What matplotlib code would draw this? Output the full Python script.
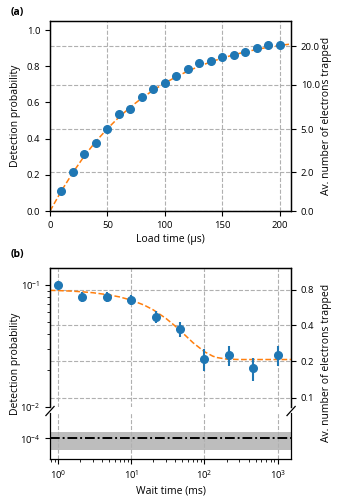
import numpy as np
import matplotlib
matplotlib.use('Agg')
import matplotlib.pyplot as plt
from matplotlib.ticker import NullLocator, NullFormatter, FixedLocator, LogLocator

plt.rcParams['font.family'] = ['Open Sans', 'DejaVu Sans']
plt.rcParams['font.size'] = 7.5
plt.rcParams['xtick.labelsize'] = 6.8
plt.rcParams['ytick.labelsize'] = 6.8
plt.rcParams['axes.linewidth'] = 0.9

# (a) loading curve
load_t = [10, 20, 30, 40, 50, 60, 70, 80, 90, 100,
          110, 120, 130, 140, 150, 160, 170, 180, 190, 200]
load_p = [0.109, 0.215, 0.317, 0.376, 0.453, 0.534, 0.562, 0.630, 0.676, 0.707,
          0.744, 0.786, 0.818, 0.831, 0.851, 0.862, 0.877, 0.901, 0.919, 0.919]
load_fit_t = [0, 10, 20, 30, 40, 50, 60, 70, 80, 90, 100, 110,
              120, 130, 140, 150, 160, 170, 180, 190, 200, 210]
load_fit_p = [0.0, 0.112, 0.213, 0.305, 0.385, 0.455, 0.518, 0.574, 0.624, 0.668, 0.707, 0.742,
              0.773, 0.800, 0.824, 0.845, 0.863, 0.879, 0.893, 0.905, 0.915, 0.923]
n_ticks_a = [0.0, 2.0, 5.0, 10.0, 20.0]

# (b) storage curve
wait_t = [1.0, 2.15, 4.64, 10.0, 21.5, 46.4, 100.0, 215.0, 464.0, 1000.0]
wait_p = [0.1005, 0.0802, 0.0802, 0.0754, 0.0550, 0.0434, 0.0249, 0.0268, 0.0207, 0.0268]
wait_err = [0.008, 0.008, 0.008, 0.007, 0.0065, 0.0062, 0.005, 0.005, 0.0044, 0.005]
wait_fit_t = [0.78, 1, 1.5, 2, 3, 5, 7, 10, 15, 20, 30, 40, 50, 70,
              100, 130, 150, 200, 300, 500, 1000, 1520]
wait_fit_p = [0.0905, 0.0901, 0.0892, 0.0883, 0.0865, 0.0830, 0.0798, 0.0752, 0.0685, 0.0626,
              0.0531, 0.0460, 0.0407, 0.0336, 0.0284, 0.0261, 0.0254, 0.0247, 0.0245, 0.0245,
              0.0245, 0.0245]
n_ticks_b = [0.1, 0.2, 0.4, 0.8]
noise_level = 1e-4
noise_lo, noise_hi = 0.80e-4, 1.12e-4

eta = 0.12
def n2p(n):
    return 1 - np.exp(-eta*np.asarray(n))

grid_kw = dict(color='#b0b0b0', ls='--', lw=0.8)
blue = '#1f77b4'
orange = '#ff7f0e'

fig = plt.figure(figsize=(3.41, 5.04), dpi=100)

# ---- panel (a)
ax = fig.add_axes([0.1466, 0.5813, 0.707, 0.377])
ax.plot(load_fit_t, load_fit_p, color=orange, ls='--', lw=1.1, zorder=2)
ax.plot(load_t, load_p, 'o', color=blue, ms=5.5, zorder=3)
ax.set_xlim(0, 210)
ax.set_ylim(0, 1.05)
ax.set_xticks([0, 50, 100, 150, 200])
ax.set_yticks([0.0, 0.2, 0.4, 0.6, 0.8, 1.0])
ax.set_xlabel('Load time (μs)', labelpad=3)
ax.grid(axis='x', **grid_kw)
tw = ax.twinx()
tw.set_ylim(ax.get_ylim())
tw.set_yticks(n2p(n_ticks_a))
tw.set_yticklabels(['%.1f' % n for n in n_ticks_a])
tw.grid(axis='y', **grid_kw)
ax.set_zorder(tw.get_zorder()+1)
ax.patch.set_visible(False)
fig.text(0.044, 0.7695, 'Detection probability', rotation=90, ha='center', va='center')
fig.text(0.958, 0.7695, 'Av. number of electrons trapped', rotation=90, ha='center', va='center')
fig.text(0.03, 0.97, '(a)', fontweight='bold')

# ---- panel (b) upper
bu = fig.add_axes([0.1466, 0.1925, 0.707, 0.2758])
bu.set_xscale('log')
bu.set_yscale('log')
bu.plot(wait_fit_t, wait_fit_p, color=orange, ls='--', lw=1.1, zorder=2)
bu.errorbar(wait_t, wait_p, yerr=wait_err, fmt='o', color=blue, ms=5.5, elinewidth=1.5, capsize=0, zorder=3)
bu.set_xlim(0.78, 1520)
bu.set_ylim(0.01, 0.138)
bu.spines['bottom'].set_visible(False)
bu.tick_params(axis='x', which='both', bottom=False, labelbottom=False)
bu.yaxis.set_major_locator(FixedLocator([0.01, 0.1]))
bu.grid(axis='x', which='major', **grid_kw)
tb = bu.twinx()
tb.set_yscale('log')
tb.set_ylim(bu.get_ylim())
tb.yaxis.set_major_locator(FixedLocator(n2p(n_ticks_b)))
tb.yaxis.set_minor_locator(NullLocator())
tb.set_yticklabels(['%.1f' % n for n in n_ticks_b])
tb.grid(axis='y', which='major', **grid_kw)
tb.spines['bottom'].set_visible(False)
bu.set_zorder(tb.get_zorder()+1)
bu.patch.set_visible(False)

# ---- panel (b) lower
bl = fig.add_axes([0.1466, 0.0893, 0.707, 0.0913])
bl.set_xscale('log')
bl.set_yscale('log')
bl.fill_between([0.78, 1520], noise_lo, noise_hi, color='#bdbdbd', lw=0, zorder=1)
bl.axhline(noise_level, color='black', lw=1.4, dashes=(5, 1.5, 1, 1.5), zorder=3)
bl.set_xlim(0.78, 1520)
bl.set_ylim(6.76e-5, 1.61e-4)
bl.yaxis.set_major_locator(FixedLocator([1e-4]))
bl.yaxis.set_minor_locator(NullLocator())
bl.yaxis.set_minor_formatter(NullFormatter())
bl.xaxis.set_major_locator(LogLocator(base=10, numticks=10))
bl.spines['top'].set_visible(False)
bl.grid(axis='x', which='major', **grid_kw)
bl.set_xlabel('Wait time (ms)', labelpad=3)

# break marks
d = 0.012
for x0 in (0.1466, 0.1466+0.707):
    fig.add_artist(plt.Line2D([x0-d, x0+d], [0.1815-0.006, 0.1915+0.002], color='k', lw=0.9,
                              transform=fig.transFigure, clip_on=False))

fig.text(0.044, 0.279, 'Detection probability', rotation=90, ha='center', va='center')
fig.text(0.958, 0.279, 'Av. number of electrons trapped', rotation=90, ha='center', va='center')
fig.text(0.03, 0.49, '(b)', fontweight='bold')

fig.savefig('out.png', dpi=100)
